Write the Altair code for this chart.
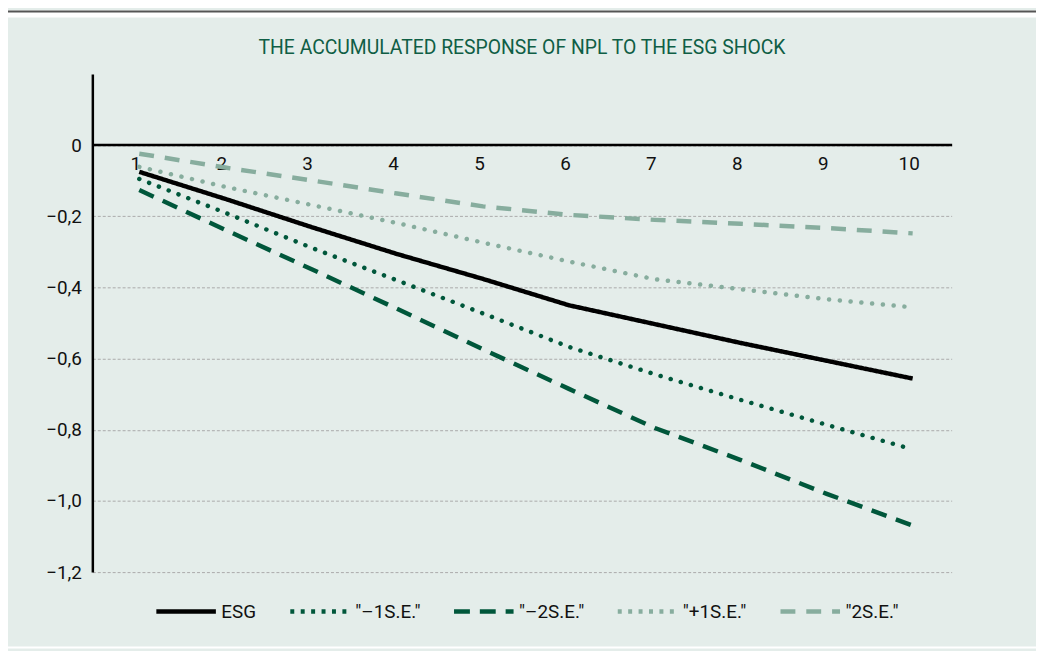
import altair as alt
import pandas as pd

# ---- data ----
periods = list(range(1, 11))
esg = [-0.075, -0.151, -0.230, -0.306, -0.376, -0.450, -0.503, -0.556, -0.606, -0.656]
minus1 = [-0.095, -0.190, -0.288, -0.380, -0.473, -0.567, -0.644, -0.716, -0.786, -0.855]
minus2 = [-0.126, -0.238, -0.348, -0.460, -0.574, -0.685, -0.795, -0.885, -0.980, -1.069]
plus1 = [-0.061, -0.117, -0.168, -0.219, -0.274, -0.327, -0.377, -0.405, -0.433, -0.456]
plus2 = [-0.024, -0.063, -0.099, -0.136, -0.172, -0.196, -0.210, -0.221, -0.233, -0.248]
series_names = ["ESG", '"–1S.E."', '"–2S.E."', '"+1S.E."', '"2S.E."']
dotted_names = ['"–1S.E."', '"+1S.E."']
y_ticks = [-1.2, -1.0, -0.8, -0.6, -0.4, -0.2, 0.0]
title_text = "THE ACCUMULATED RESPONSE OF NPL TO THE ESG SHOCK"

rows = []
for name, vals in zip(series_names, [esg, minus1, minus2, plus1, plus2]):
    for p, v in zip(periods, vals):
        rows.append({"period": p, "value": v, "series": name})
df = pd.DataFrame(rows)

FONT = "Roboto"
LBL = 19
W, H = 866, 502
DARK = "#00573b"
LIGHT = "#87ad9e"
PANEL = "#e4edea"

colors = ["#000000", DARK, DARK, LIGHT, LIGHT]
# dashes used for the butt-capped layer (and its legend)
dashes_main = [[1, 0], [4, 6.5], [16, 10], [4, 6.5], [15, 11]]
# dashes used for the round-capped dotted layer
dashes_dots = [[1, 0], [0.1, 10.5], [16, 10], [0.1, 10.8], [15, 11]]

# white strip above the panel, dark rule on it, white strip below
top_strip = alt.Chart(alt.Data(values=[{}])).mark_rect(color="white").encode(
    x=alt.value(-85), x2=alt.value(951), y=alt.value(-64), y2=alt.value(-57)
)
topline = alt.Chart(alt.Data(values=[{}])).mark_rule(color="#555555", strokeWidth=2).encode(
    x=alt.value(-85), x2=alt.value(951), y=alt.value(-63)
)
bottom_strip = alt.Chart(alt.Data(values=[{}])).mark_rect(color="white").encode(
    x=alt.value(-85), x2=alt.value(951), y=alt.value(577), y2=alt.value(579)
)

label_expr = ("datum.value == 0 ? '0' : "
              "replace(replace(format(datum.value, '.1f'), '-', '–'), '.', ',')")

x_enc = alt.X("period:O",
              scale=alt.Scale(type="point", padding=0.5),
              axis=alt.Axis(title=None, labelAngle=0, orient="bottom", offset=-(H - 71),
                            domainColor="black", domainWidth=2.5, ticks=False,
                            labelPadding=10, labelFontSize=LBL, labelFont=FONT,
                            labelColor="#111111", grid=False))
y_enc = alt.Y("value:Q",
              scale=alt.Scale(domain=[-1.2, 0.2], nice=False, zero=False),
              axis=alt.Axis(title=None, values=y_ticks, labelExpr=label_expr,
                            grid=True, gridDash=[3, 2], gridColor="#aaaaaa", gridWidth=1,
                            domainColor="black", domainWidth=2.5, ticks=False,
                            labelPadding=11, labelFontSize=LBL, labelFont=FONT,
                            labelColor="#111111"))

legend = alt.Legend(title=None, orient="none", direction="horizontal",
                    legendX=62, legendY=509,
                    symbolType="stroke", symbolSize=3600,
                    symbolStrokeWidth=4.5, labelOffset=3,
                    columnPadding=24, labelFontSize=LBL,
                    labelFont=FONT, labelColor="#111111")

solid_dashed = alt.Chart(df).transform_filter(
    ~alt.FieldOneOfPredicate(field="series", oneOf=dotted_names)
).mark_line(strokeWidth=4.5, strokeCap="butt").encode(
    x=x_enc, y=y_enc, xOffset=alt.value(4),
    color=alt.Color("series:N", scale=alt.Scale(domain=series_names, range=colors),
                    legend=legend),
    strokeDash=alt.StrokeDash("series:N",
                              scale=alt.Scale(domain=series_names, range=dashes_main),
                              legend=legend),
    order=alt.Order("period:O"),
)

dotted = alt.Chart(df).transform_filter(
    alt.FieldOneOfPredicate(field="series", oneOf=dotted_names)
).mark_line(strokeWidth=4.5, strokeCap="round").encode(
    x=x_enc, y=y_enc, xOffset=alt.value(4),
    color=alt.Color("series:N", scale=alt.Scale(domain=series_names, range=colors),
                    legend=None),
    strokeDash=alt.StrokeDash("series:N",
                              scale=alt.Scale(domain=series_names, range=dashes_dots),
                              legend=None),
    order=alt.Order("period:O"),
)

chart = alt.layer(top_strip, topline, bottom_strip, solid_dashed, dotted).resolve_scale(
    color="independent", strokeDash="independent"
).properties(
    width=W, height=H,
    title=alt.TitleParams(title_text, font=FONT, fontSize=19.5, color="#0f5e45",
                          fontWeight="normal", anchor="middle", offset=-63,
                          baseline="alphabetic"),
    autosize=alt.AutoSizeParams(type="none"),
    padding={"left": 85, "top": 64, "right": 85, "bottom": 77},
    background=PANEL,
).configure_view(stroke=None)

chart.save("out.html", embed_options={"renderer": "svg", "actions": False})
